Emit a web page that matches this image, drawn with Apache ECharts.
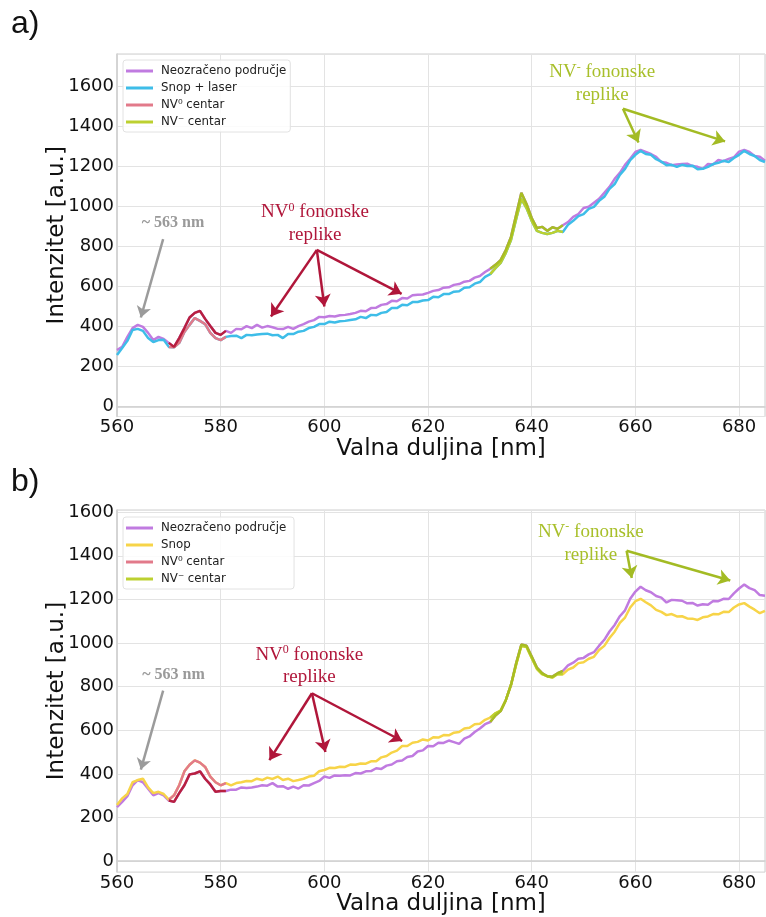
<!DOCTYPE html>
<html><head><meta charset="utf-8">
<script src="https://cdn.jsdelivr.net/npm/echarts@6/dist/echarts.min.js"></script>
<style>html,body{margin:0;padding:0;background:#fff}#c{width:766px;height:917px}</style>
</head><body><div id="c"></div>
<script>
// wavelengths 560..685 nm, 1 nm step
const wavelengths = [];
for (let w = 560; w <= 685; w++) wavelengths.push(w);

// Panel a)
const aNeozraceno = [282,298,348,392,408,398,368,332,348,338,318,298,342,392,445,468,478,438,402,368,358,378,368,388,386,402,392,408,394,402,
396,388,387,398,388,402,412,424,432,448,446,452,450,456,458,462,468,478,476,492,494,508,512,528,526,542,540,556,558,560,
568,578,582,594,596,608,612,624,628,644,652,672,688,708,732,782,848,958,1068,1012,942,892,898,878,896,888,906,922,948,962,
992,998,1018,1038,1068,1098,1138,1168,1208,1238,1272,1282,1272,1262,1248,1222,1218,1206,1210,1212,1214,1202,1198,1188,1212,1210,1232,1226,1238,1246,
1274,1282,1272,1252,1248,1228];
const aSnopLaser = [258,292,328,382,388,378,342,322,332,334,298,296,318,372,408,442,428,412,368,342,332,348,352,354,342,358,356,360,362,364,
356,358,342,362,362,374,378,392,398,412,412,424,420,426,428,432,436,448,442,458,456,468,472,492,492,508,506,522,522,530,
532,548,546,562,562,574,576,594,596,614,622,648,662,692,718,768,832,938,1038,992,928,878,868,862,868,878,872,908,928,952,
962,988,998,1028,1048,1088,1112,1158,1188,1232,1258,1278,1262,1258,1236,1224,1206,1208,1198,1208,1202,1204,1186,1188,1198,1212,1218,1228,1222,1242,
1258,1278,1262,1252,1232,1222];

// Panel b)
const bNeozraceno = [248,272,298,348,372,362,332,302,312,302,278,272,312,348,398,402,412,378,352,318,322,322,328,328,338,336,338,342,348,346,
358,342,344,332,342,333,348,347,358,368,388,382,393,392,394,393,404,402,412,413,426,423,438,443,458,462,478,482,503,508,
528,527,543,542,553,546,538,562,572,592,608,628,638,668,688,738,808,908,993,988,938,888,862,848,846,862,872,898,910,928,
932,948,958,988,1015,1053,1083,1123,1150,1203,1236,1258,1242,1233,1216,1208,1186,1198,1196,1194,1182,1184,1172,1178,1176,1193,1192,1203,1202,1228,
1250,1268,1252,1243,1220,1217];
const bSnop = [258,288,308,362,372,378,338,312,318,308,282,302,348,412,442,462,452,432,388,362,348,358,348,358,362,368,367,378,372,383,
377,388,372,378,367,372,378,388,392,412,418,428,427,433,432,443,442,448,447,458,458,476,482,498,507,528,528,543,547,558,
553,568,567,578,577,589,592,608,612,628,630,648,658,678,690,738,808,902,988,982,932,882,858,848,842,858,857,878,888,908,
912,928,937,968,987,1023,1052,1093,1117,1163,1192,1203,1187,1173,1152,1143,1128,1133,1122,1123,1113,1112,1106,1118,1122,1133,1132,1143,1142,1163,
1177,1183,1167,1153,1137,1148];

// Highlighted bands (nm)
const nv0Band = [570, 581];
const nvmBand = [632, 646];

const C = {
  purple: '#c07be0', blue: '#3ebde8', yellow: '#f7d448',
  nv0Light: '#e27a8a', nv0Dark: '#b8203f',
  nvmLight: '#bcd030', nvmDark: '#a8be22',
  grid: '#e3e3e3', frame: '#cfcfcf'
};

function pairs(ys) { return wavelengths.map((x, i) => [x, ys[i]]); }
function band(ys, b) { return wavelengths.map((x, i) => [x, ys[i]]).filter(p => p[0] >= b[0] && p[0] <= b[1]); }

const chart = echarts.init(document.getElementById('c'), null, {renderer: 'canvas'});

const font = 'DejaVu Sans';
function xAx(gi) {
  return {
    type: 'value', gridIndex: gi, min: 560, max: 685, interval: 20,
    name: 'Valna duljina [nm]', nameLocation: 'middle', nameGap: 19,
    nameTextStyle: {fontFamily: font, fontSize: 23, color: '#111', verticalAlign: 'top'},
    axisLine: {show: true, lineStyle: {color: C.frame, width: 1.5}},
    axisTick: {show: false},
    axisLabel: {fontFamily: font, fontSize: 18, color: '#111', margin: 2, showMaxLabel: false, verticalAlign: 'top',
      formatter: v => String(v)},
    splitLine: {show: true, lineStyle: {color: C.grid, width: 1}}
  };
}
function yAx(gi, max) {
  return {
    type: 'value', gridIndex: gi, min: -50, max: max, splitNumber: 9,
    name: 'Intenzitet [a.u.]', nameLocation: 'middle', nameGap: 48, nameRotate: 90, nameMoveOverlap: false,
    nameTextStyle: {fontFamily: font, fontSize: 23, color: '#111'},
    axisLine: {show: true, lineStyle: {color: C.frame, width: 1.5}},
    axisTick: {show: false},
    axisLabel: {fontFamily: font, fontSize: 18, color: '#111', margin: 3, showMinLabel: false, showMaxLabel: false,
      formatter: v => String(v)},
    splitLine: {show: true, lineStyle: {color: C.grid, width: 1}}
  };
}
function line(name, data, color, gi, z) {
  return {
    type: 'line', name: name, data: data, xAxisIndex: gi, yAxisIndex: gi,
    showSymbol: false, symbol: 'none', color: color, z: z || 2,
    lineStyle: {color: color, width: 2.5}, silent: true, animation: false
  };
}
function arrows(gi, color, segs, size) {
  return {
    type: 'line', name: 'arrows' + gi + color, data: [], xAxisIndex: gi, yAxisIndex: gi, silent: true, animation: false,
    markLine: {
      silent: true, animation: false, symbol: ['none', 'arrow'], symbolSize: size || 12,
      label: {show: false},
      lineStyle: {color: color, width: 2.5, type: 'solid'},
      emphasis: {disabled: true},
      data: segs.map(s => [{coord: s[0]}, {coord: s[1]}])
    }
  };
}

const legendCommon = {
  orient: 'vertical', left: 123, padding: [5, 4, 4, 3], itemGap: 5,
  itemWidth: 27, itemHeight: 3, icon: 'rect',
  backgroundColor: 'rgba(255,255,255,0.85)', borderColor: '#e2e2e2', borderWidth: 1, borderRadius: 3,
  textStyle: {fontFamily: font, fontSize: 11.8, color: '#222', padding: [0, 0, 0, 3], lineHeight: 12},
  selectedMode: false
};

const option = {
  animation: false,
  backgroundColor: '#fff',
  grid: [
    {left: 117, right: 1, top: 54, height: 362.5, show: true, borderColor: C.frame, borderWidth: 1, backgroundColor: 'transparent'},
    {left: 117, right: 1, top: 510, height: 363.3, show: true, borderColor: C.frame, borderWidth: 1, backgroundColor: 'transparent'}
  ],
  xAxis: [xAx(0), xAx(1)],
  yAxis: [yAx(0, 1762), yAx(1, 1610)],
  legend: [
    Object.assign({}, legendCommon, {top: 60, data: ['Neozračeno područje', 'Snop + laser', 'NV⁰ centar', 'NV⁻ centar']}),
    Object.assign({}, legendCommon, {top: 517, data: ['Neozračeno područje ', 'Snop', 'NV⁰ centar ', 'NV⁻ centar ']})
  ],
  series: [
    line('Neozračeno područje', pairs(aNeozraceno), C.purple, 0, 2),
    line('Snop + laser', pairs(aSnopLaser), C.blue, 0, 3),
    line('NV⁰ centar', band(aSnopLaser, nv0Band), C.nv0Light, 0, 4),
    line('nv0 a dark', band(aNeozraceno, nv0Band), C.nv0Dark, 0, 5),
    line('NV⁻ centar', band(aSnopLaser, nvmBand), C.nvmLight, 0, 4),
    line('nvm a dark', band(aNeozraceno, nvmBand), C.nvmDark, 0, 5),

    line('Neozračeno područje ', pairs(bNeozraceno), C.purple, 1, 2),
    line('Snop', pairs(bSnop), C.yellow, 1, 3),
    line('NV⁰ centar ', band(bSnop, nv0Band), C.nv0Light, 1, 4),
    line('nv0 b dark', band(bNeozraceno, nv0Band), C.nv0Dark, 1, 5),
    line('NV⁻ centar ', band(bSnop, nvmBand), C.nvmLight, 1, 4),
    line('nvm b dark', band(bNeozraceno, nvmBand), C.nvmDark, 1, 5),

    arrows(0, '#9b9b9b', [[[568.9, 837], [564.6, 445]]], 11),
    arrows(0, '#b0163a', [[[598.55, 783], [589.7, 450]], [[598.55, 783], [600.0, 500]], [[598.55, 783], [614.9, 563]]], 12),
    arrows(0, '#a3bb24', [[[657.6, 1488], [660.6, 1320]], [[657.6, 1488], [677.3, 1325]]], 12),
    arrows(1, '#9b9b9b', [[[568.9, 782], [564.6, 420]]], 11),
    arrows(1, '#b0163a', [[[597.6, 770], [589.4, 463]], [[597.6, 770], [600.2, 501]], [[597.6, 770], [615.0, 551]]], 12),
    arrows(1, '#a3bb24', [[[658.3, 1423], [659.3, 1298]], [[658.3, 1423], [678.3, 1287]]], 12)
  ]
};
chart.setOption(option);

// annotation texts, positioned through the chart's own scales
const serif = '"Liberation Serif", "DejaVu Serif", serif';
function richStyle(color, size) {
  return {
    n: {fontFamily: serif, fontSize: size, fill: color, fontWeight: 'normal', lineHeight: size + 2},
    s: {fontFamily: serif, fontSize: Math.round(size * 0.62), fill: color, verticalAlign: 'top', lineHeight: size + 2}
  };
}
const notes = [
  [0, [570.8, 918], '{b|~ 563 nm}', '#9a9a9a', 16],
  [0, [598.2, 972], '{n|NV}{s|0}{n| fononske}', '#b0163a', 19],
  [0, [598.2, 858], '{n|replike}', '#b0163a', 19],
  [0, [653.6, 1672], '{n|NV}{s|-}{n| fononske}', '#a8bf2a', 19],
  [0, [653.6, 1558], '{n|replike}', '#a8bf2a', 19],
  [1, [570.9, 855], '{b|~ 563 nm}', '#9a9a9a', 16],
  [1, [597.1, 946], '{n|NV}{s|0}{n| fononske}', '#b0163a', 19],
  [1, [597.1, 843], '{n|replike}', '#b0163a', 19],
  [1, [651.4, 1511], '{n|NV}{s|-}{n| fononske}', '#a8bf2a', 19],
  [1, [651.4, 1405], '{n|replike}', '#a8bf2a', 19]
];
const graphic = notes.map(n => {
  const p = chart.convertToPixel({gridIndex: n[0]}, n[1]);
  const rich = richStyle(n[3], n[4]);
  rich.b = {fontFamily: serif, fontSize: n[4], fontWeight: 'bold', fill: n[3]};
  return {type: 'text', x: p[0], y: p[1], silent: true,
    style: {text: n[2], rich: rich, fill: n[3], align: 'center', verticalAlign: 'middle'}};
});
graphic.push({type: 'text', x: 11, y: 24, style: {text: 'a)', fill: '#111', font: '32px "Liberation Sans", Arial, sans-serif', verticalAlign: 'middle'}});
graphic.push({type: 'text', x: 11, y: 482, style: {text: 'b)', fill: '#111', font: '32px "Liberation Sans", Arial, sans-serif', verticalAlign: 'middle'}});
chart.setOption({graphic: graphic});
</script></body></html>
